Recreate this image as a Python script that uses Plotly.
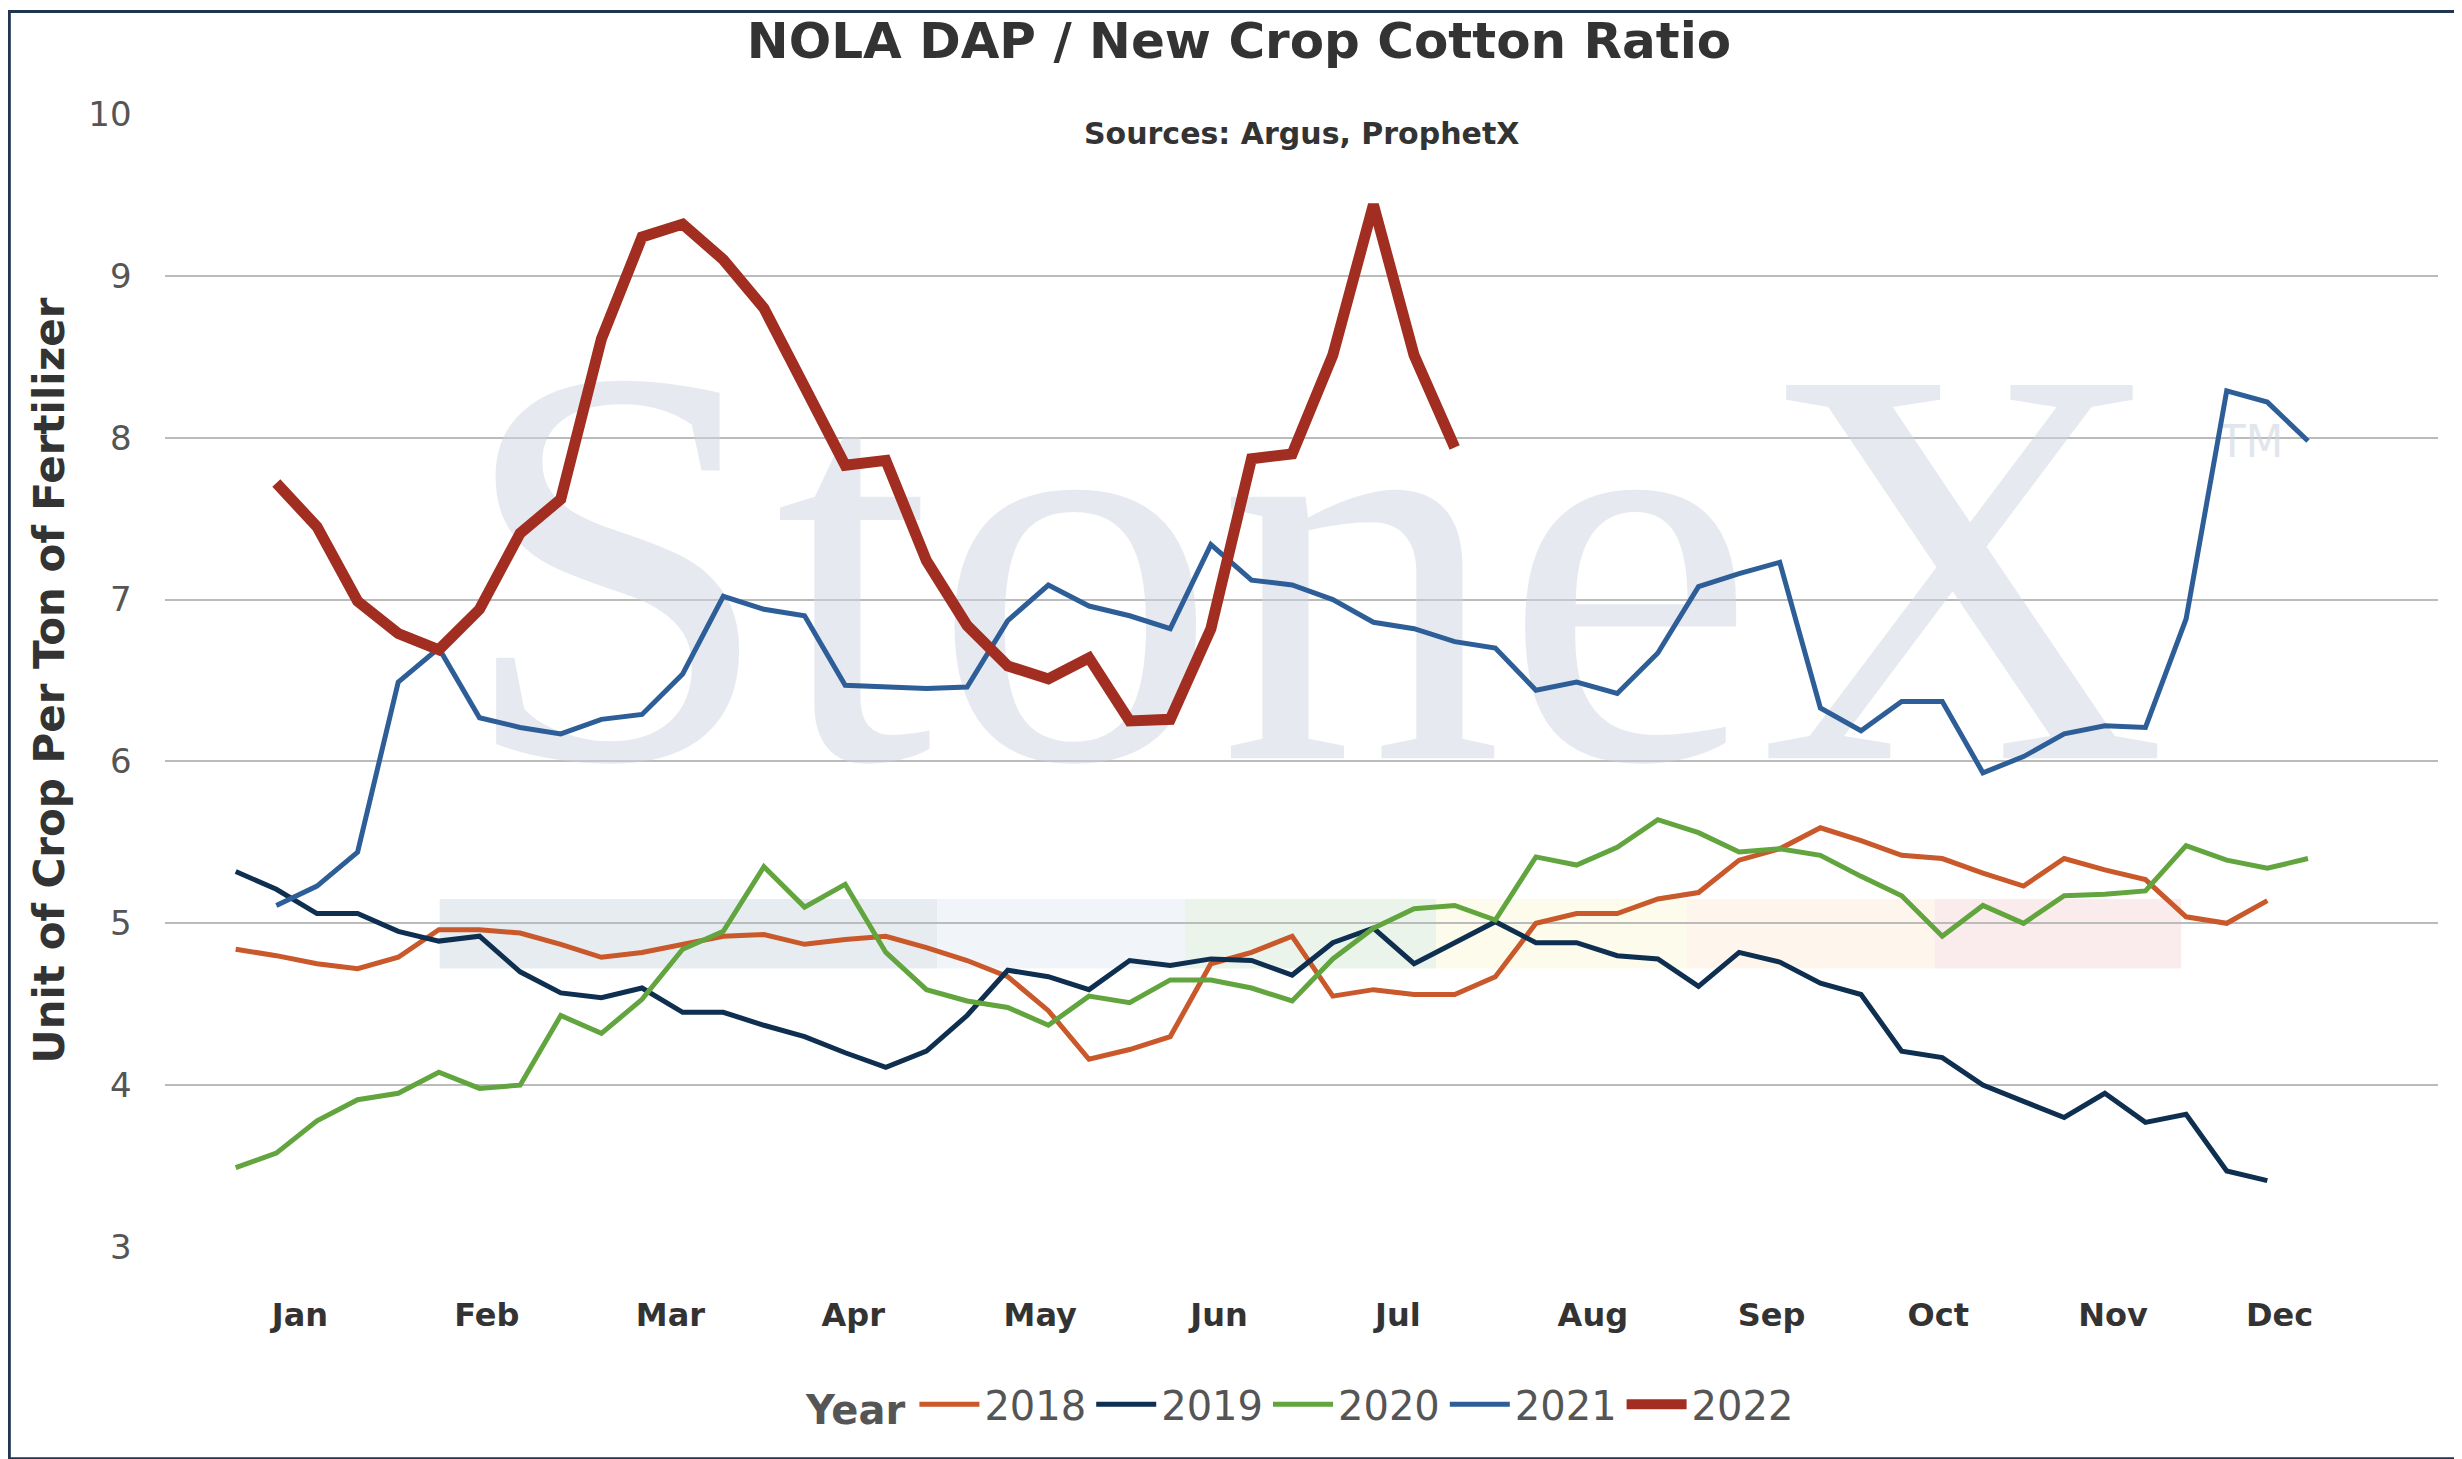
import plotly.graph_objects as go

months = ["Jan","Feb","Mar","Apr","May","Jun","Jul","Aug","Sep","Oct","Nov","Dec"]
month_pos = [1.58,6.18,10.7,15.2,19.8,24.2,28.6,33.4,37.8,41.9,46.2,50.3]

y2018 = [4.84,4.80,4.75,4.72,4.79,4.96,4.96,4.94,4.87,4.79,4.82,4.87,4.92,4.93,4.87,4.90,4.92,4.85,4.77,4.67,
         4.46,4.16,4.22,4.30,4.75,4.82,4.92,4.55,4.59,4.56,4.56,4.67,5.00,5.06,5.06,5.15,5.19,5.39,5.46,5.59,
         5.51,5.42,5.40,5.31,5.23,5.40,5.33,5.27,5.04,5.00,5.14]
y2019 = [5.32,5.21,5.06,5.06,4.95,4.89,4.92,4.70,4.57,4.54,4.60,4.45,4.45,4.37,4.30,4.20,4.11,4.21,4.43,4.71,
         4.67,4.59,4.77,4.74,4.78,4.77,4.68,4.88,4.97,4.75,4.88,5.01,4.88,4.88,4.80,4.78,4.61,4.82,4.76,4.63,
         4.56,4.21,4.17,4.00,3.90,3.80,3.95,3.77,3.82,3.47,3.41]
y2020 = [3.49,3.58,3.78,3.91,3.95,4.08,3.98,4.00,4.43,4.32,4.53,4.84,4.95,5.35,5.10,5.24,4.82,4.59,4.52,4.48,
         4.37,4.55,4.51,4.65,4.65,4.60,4.52,4.78,4.97,5.09,5.11,5.02,5.41,5.36,5.47,5.64,5.56,5.44,5.46,5.42,
         5.29,5.17,4.92,5.11,5.00,5.17,5.18,5.20,5.48,5.39,5.34,5.40]
y2021 = [None,5.11,5.23,5.44,6.49,6.70,6.27,6.21,6.17,6.26,6.29,6.54,7.02,6.94,6.90,6.47,6.46,6.45,6.46,6.87,
         7.09,6.96,6.90,6.82,7.34,7.12,7.09,7.00,6.86,6.82,6.74,6.70,6.44,6.49,6.42,6.67,7.08,7.16,7.23,6.33,
         6.19,6.37,6.37,5.93,6.03,6.17,6.22,6.21,6.88,8.29,8.22,7.98]
y2022 = [None,7.72,7.45,6.99,6.79,6.69,6.94,7.41,7.62,8.61,9.24,9.32,9.10,8.80,8.32,7.83,7.86,7.24,6.84,6.59,
         6.51,6.64,6.25,6.26,6.82,7.87,7.90,8.51,9.44,8.51,7.94]

series = [("2018", y2018, "#C9582A", 5), ("2019", y2019, "#0E2F50", 5), ("2020", y2020, "#62A53F", 5),
          ("2021", y2021, "#2E5E97", 5), ("2022", y2022, "#A12E20", 11)]

fig = go.Figure()
fig.add_trace(go.Scatter(x=[26.5], y=[6.9], mode="text", text=["StoneX"], showlegend=False, hoverinfo="skip",
                         textfont=dict(family="Liberation Serif", size=570, color="rgba(205,213,225,0.5)")))
fig.add_trace(go.Scatter(x=[49.6], y=[7.95], mode="text", text=["TM"], showlegend=False, hoverinfo="skip",
                         textfont=dict(family="DejaVu Sans", size=44, color="rgba(205,213,225,0.6)")))
for name, ys, col, w in series:
    fig.add_trace(go.Scatter(x=list(range(len(ys))), y=ys, mode="lines", name=name,
                             line=dict(color=col, width=w), connectgaps=False))

bands = [(5.02,17.26,"rgba(170,185,205,0.28)"),(17.26,23.36,"rgba(200,215,235,0.25)"),
         (23.36,29.54,"rgba(190,220,190,0.3)"),(29.54,35.71,"rgba(250,245,200,0.35)"),
         (35.71,41.81,"rgba(252,230,200,0.35)"),(41.81,47.88,"rgba(240,200,200,0.35)")]
shapes = [dict(type="rect", xref="x", yref="y", x0=a, x1=b, y0=4.72, y1=5.15, fillcolor=c,
               line=dict(width=0), layer="below") for a, b, c in bands]
shapes.append(dict(type="rect", xref="paper", yref="paper", x0=-0.0685, x1=1.012, y0=-0.187, y1=1.0905,
                   line=dict(color="#1F3550", width=3)))

fig.update_layout(
    width=2462, height=1459, paper_bgcolor="white", plot_bgcolor="white",
    margin=dict(l=157, r=32, t=106, b=220),
    font=dict(family="DejaVu Sans", color="#555555"),
    title=dict(text="<b>NOLA DAP / New Crop Cotton Ratio</b>", x=0.5, xanchor="center", y=0.99, yanchor="top",
               font=dict(size=50, color="#333333")),
    shapes=shapes,
    annotations=[
        dict(text="<b>Sources: Argus, ProphetX</b>", xref="paper", yref="paper", x=0.5, y=1.0, yanchor="top",
             showarrow=False, font=dict(size=30, color="#333333")),
    ],
    xaxis=dict(range=[-1.74, 54.2], tickmode="array", tickvals=month_pos, ticktext=[f"<b>{m}</b>" for m in months],
               showgrid=False, zeroline=False, ticks="outside", ticklen=40, tickcolor="rgba(0,0,0,0)",
               tickfont=dict(size=32, color="#333333")),
    yaxis=dict(range=[3, 10], dtick=1, showgrid=True, gridcolor="#BBBBBB", gridwidth=2, zeroline=False,
               tickfont=dict(size=34, color="#555555"), ticksuffix="   ",
               title=dict(text="<b>Unit of Crop Per Ton of Fertilizer</b>", font=dict(size=42, color="#333333"), standoff=10)),
    legend=dict(orientation="h", x=0.5, xanchor="center", y=-0.11, yanchor="top", itemwidth=60,
                title=dict(text="<b>Year</b>", font=dict(size=40, color="#555555")),
                font=dict(size=40, color="#555555")),
)
fig.write_html("out.html")
